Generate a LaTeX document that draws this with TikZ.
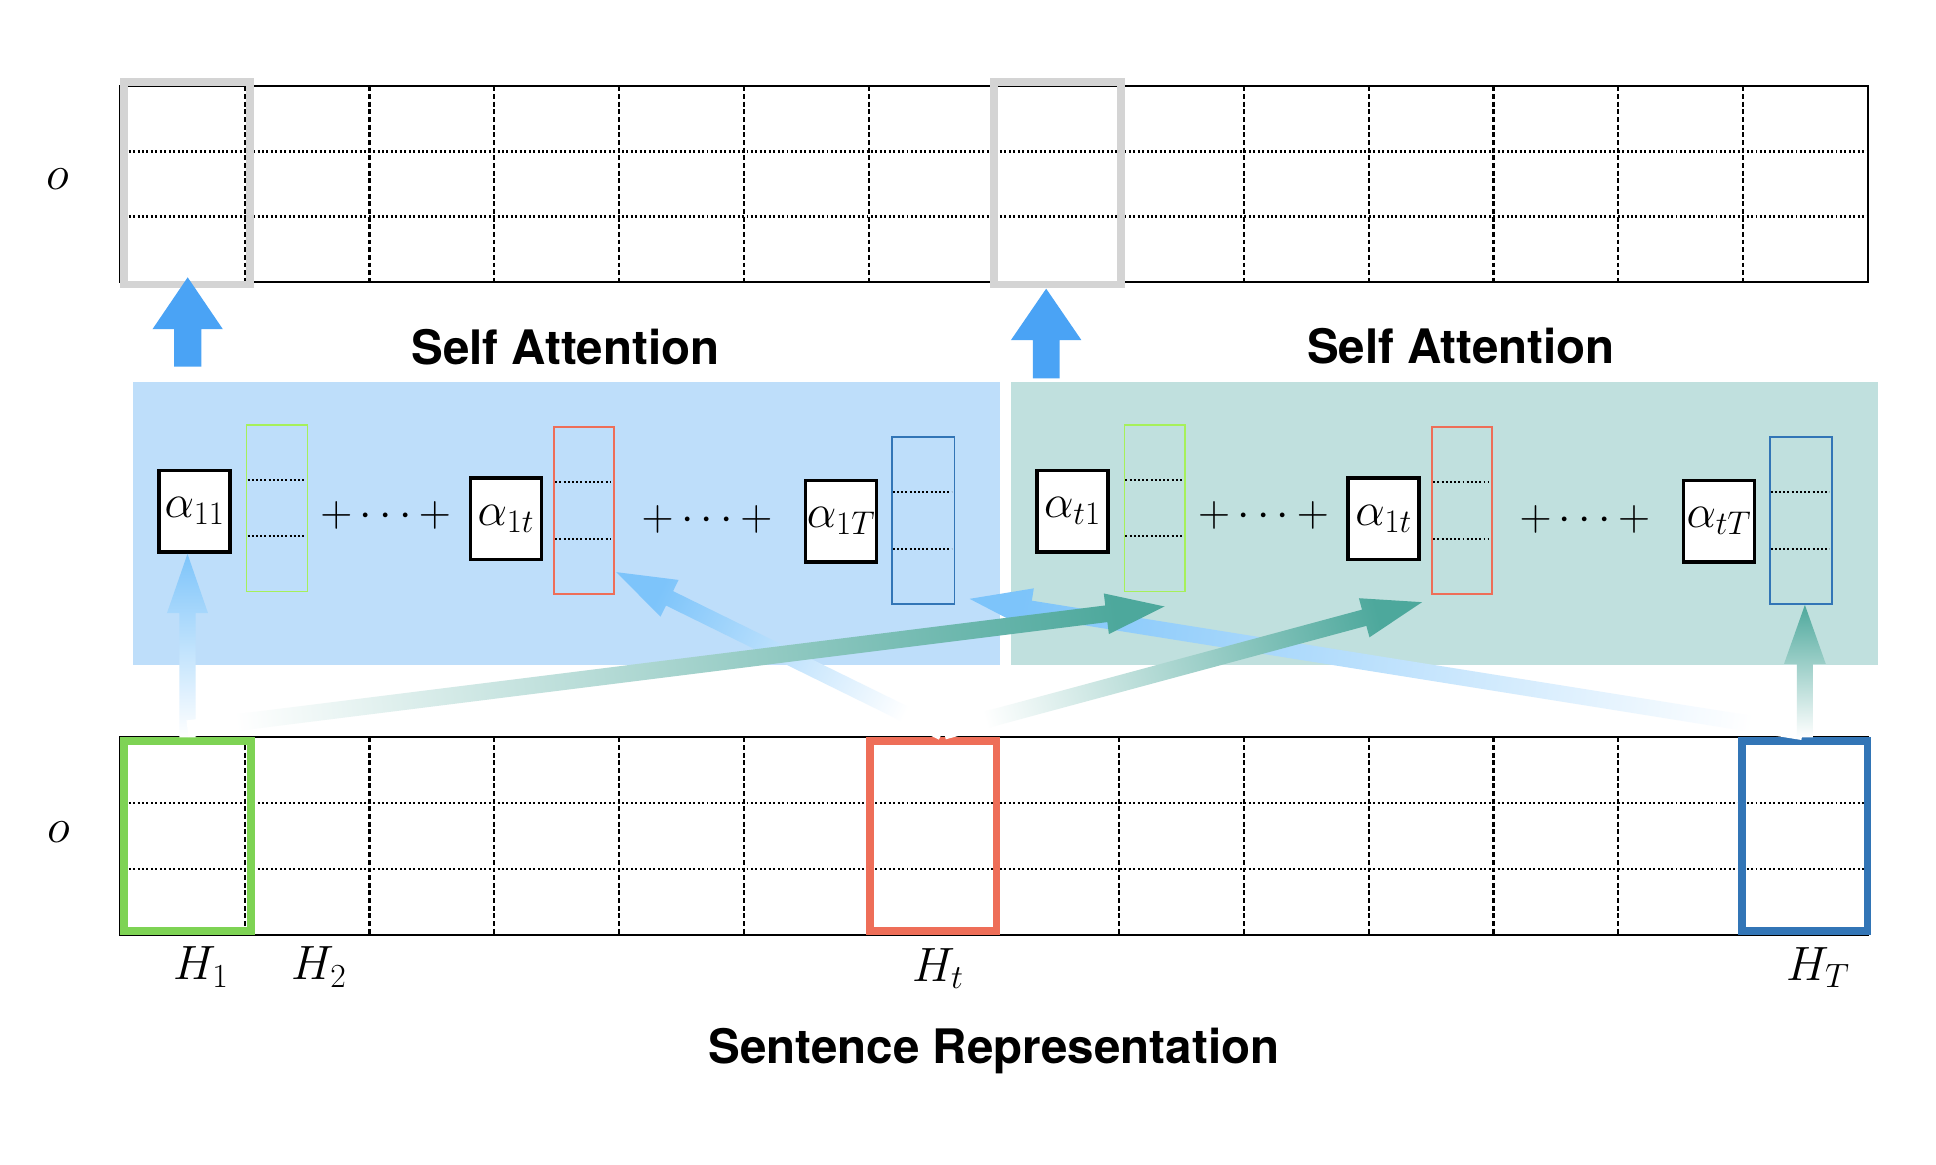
\RequirePackage{fix-cm}
\documentclass[tikz,border=0pt]{standalone}
\usepackage{fontspec}
\newfontfamily\headfont{TeX Gyre Heros}
\usetikzlibrary{calc}
\definecolor{panelblue}{HTML}{BEDEFA}
\definecolor{panelgreen}{HTML}{C0E0DE}
\definecolor{grayframe}{HTML}{D4D4D4}
\definecolor{upblue}{HTML}{4AA3F5}
\definecolor{lightarrow}{HTML}{7DC4FA}
\definecolor{tealarrow}{HTML}{4DA89C}
\definecolor{hgreen}{HTML}{7ED354}
\definecolor{hred}{HTML}{EE6E58}
\definecolor{hblue}{HTML}{3275B6}
\definecolor{vgreen}{HTML}{A6F05A}
\tikzset{
  gridsolid/.style={line width=1.6pt},
  griddash/.style={line width=1.7pt, dash pattern=on 4pt off 2.2pt},
  griddot/.style={line width=1.7pt, dash pattern=on 1.6pt off 2pt},
  hframe/.style={draw, inner sep=0pt, line width=6.2pt},
  vecbox/.style={draw, inner sep=0pt, line width=1.4pt, minimum height=135.5pt},
  abox/.style={draw, fill=white, inner sep=0pt, line width=2.8pt, minimum width=57.5pt, minimum height=66pt, font=\fontsize{38}{40}\selectfont},
  mathlbl/.style={inner sep=0pt, font=\fontsize{39}{40}\selectfont},
  plustxt/.style={inner sep=0pt, font=\fontsize{36}{40}\selectfont},
  headtxt/.style={inner sep=0pt, font=\fontsize{38.5}{40}\selectfont\headfont\bfseries},
  vdot/.style={line width=1.7pt, dash pattern=on 1.6pt off 1.8pt, shorten <=1.5pt, shorten >=3pt},
  panel/.style={inner sep=0pt, minimum width=702.6pt, minimum height=228.6pt},
}
% #1 start, #2 tip, #3 tail colour, #4 head colour, #5 half shaft, #6 half head, #7 head length
\newcommand{\gradarrow}[7]{%
  \coordinate (ga-s) at (#1);
  \coordinate (ga-t) at (#2);
  \coordinate (ga-b) at ($(ga-t)!#7!(ga-s)$);
  \path let \p1=(ga-s), \p2=(ga-t), \n1={atan2(\y2-\y1,\x2-\x1)+90} in \pgfextra{\xdef\gaang{\n1}};
  \shade[left color=#3, right color=#4, shading angle=\gaang]
    ($(ga-s)!#5!90:(ga-t)$) -- ($(ga-b)!#5!90:(ga-t)$) -- ($(ga-b)!#6!90:(ga-t)$) -- (ga-t)
    -- ($(ga-b)!#6!-90:(ga-t)$) -- ($(ga-b)!#5!-90:(ga-t)$) -- ($(ga-s)!#5!-90:(ga-t)$) -- cycle;
}
\begin{document}
\begin{tikzpicture}[x=1pt,y=-1pt]
\fill[white] (0,0) rectangle (1568,943);
\useasboundingbox (0,0) rectangle (1568,943);

% ---------- top grid ----------
\foreach \yy in {122.67,175.33} \draw[griddot] (97,\yy) -- (1513,\yy);
\foreach \i in {1,...,13} \draw[griddash] ({97+\i*101.143},70) -- ({97+\i*101.143},228);
\draw[gridsolid] (97,70) rectangle (1513,228);
\node[mathlbl] (otop) at (47,145) {$o$};
\node[hframe, draw=grayframe, minimum width=101.9pt, minimum height=164.2pt] (sel1) at (151.35,148.4) {};
\node[hframe, draw=grayframe, minimum width=102.5pt, minimum height=164.2pt] (sel2) at (856.55,148.4) {};

% ---------- panels ----------
\node[panel, fill=panelblue] (bpanel) at (458.7,424) {};
\node[panel, fill=panelgreen] (gpanel) at (1169.9,424) {};
\node[headtxt, anchor=base] (sa1) at (458,295.6) {Self Attention};
\node[headtxt, anchor=base] (sa2) at (1183.3,294.8) {Self Attention};

% blue panel content
\node[abox] (a11) at (157.6,414.15) {$\alpha_{11}$};
\node[vecbox, draw=vgreen, minimum width=49.3pt, minimum height=134.6pt] (gv1) at (224.35,411.7) {};
\node[plustxt] (p1) at (312.3,417.7) {$+\cdots+$};
\node[abox] (a1t) at (409.65,419.95) {$\alpha_{1t}$};
\node[vecbox, draw=hred, minimum width=48.3pt] (rv1) at (473.05,413.35) {};
\node[plustxt] (p2) at (572.6,420.4) {$+\cdots+$};
\node[abox] (a1T) at (681.2,422.25) {$\alpha_{1T}$};
\node[vecbox, draw=hblue, minimum width=50.7pt] (bv1) at (747.65,421.45) {};

% green panel content
\node[abox] (at1) at (868.6,414.15) {$\alpha_{t1}$};
\node[vecbox, draw=vgreen, minimum width=49.3pt, minimum height=134.6pt] (gv2) at (935.35,411.7) {};
\node[plustxt] (p3) at (1023.3,417.7) {$+\cdots+$};
\node[abox] (a1tb) at (1120.65,419.95) {$\alpha_{1t}$};
\node[vecbox, draw=hred, minimum width=48.3pt] (rv2) at (1184.05,413.35) {};
\node[plustxt] (p4) at (1283.6,420.4) {$+\cdots+$};
\node[abox] (atT) at (1392.2,422.25) {$\alpha_{tT}$};
\node[vecbox, draw=hblue, minimum width=50.7pt] (bv2) at (1458.65,421.45) {};

\foreach \vn in {gv1,rv1,bv1,gv2,rv2,bv2} {
  \draw[vdot] ($(\vn.north west)!0.3333!(\vn.south west)$) -- ($(\vn.north east)!0.3333!(\vn.south east)$);
  \draw[vdot] ($(\vn.north west)!0.6667!(\vn.south west)$) -- ($(\vn.north east)!0.6667!(\vn.south east)$);
}

% ---------- bottom grid ----------
\foreach \yy in {650.57,703.93} \draw[griddot] (97,\yy) -- (1513,\yy);
\foreach \i in {1,...,13} \draw[griddash] ({97+\i*101.143},597.2) -- ({97+\i*101.143},757.3);
\draw[gridsolid] (97,597.2) rectangle (1513,757.3);
\node[mathlbl] (obot) at (47.3,673.6) {$o$};
\node[hframe, draw=hgreen, minimum width=103.3pt, minimum height=153.9pt] (h1) at (151.85,677.25) {};
\node[hframe, draw=hred, minimum width=102.5pt, minimum height=153.9pt] (ht) at (755.75,677.25) {};
\node[hframe, draw=hblue, minimum width=101.6pt, minimum height=153.9pt] (hT) at (1461.8,677.25) {};
\node[mathlbl, anchor=base] (lh1) at (162.7,793.7) {$H_1$};
\node[mathlbl, anchor=base] (lh2) at (258.3,793.7) {$H_2$};
\node[mathlbl, anchor=base] (lht) at (759.6,795) {$H_t$};
\node[mathlbl, anchor=base] (lhT) at (1472.3,794.3) {$H_T$};
\node[headtxt, anchor=base] (sr) at (805,861) {Sentence Representation};

% ---------- fat up arrows ----------
\gradarrow{$(sel1.south)+(0.65,63.4)$}{$(sel1.south)+(0.65,-9)$}{upblue}{upblue}{11pt}{28.5pt}{42pt}
\gradarrow{$(sel2.south)+(-9.25,72.8)$}{$(sel2.south)+(-9.25,0.2)$}{upblue}{upblue}{10.8pt}{28.5pt}{41.6pt}

% ---------- attention arrows ----------
\gradarrow{h1.north}{a11.south -| h1.north}{white}{lightarrow}{6.5pt}{16.6pt}{48pt}
\gradarrow{$(ht.north)+(7.5,-4)$}{$(rv1.south east)+(1.3,-18.4)$}{white}{lightarrow}{6.5pt}{16.6pt}{48pt}
\gradarrow{$(hT.north)+(-1.8,-4.3)$}{$(bv1.south east)+(11.6,-4.9)$}{white}{lightarrow}{6.5pt}{16.6pt}{50pt}
\gradarrow{$(h1.north)+(0,-7)$}{$(gv2.south)+(7.8,11.5)$}{white}{tealarrow}{6.8pt}{16.6pt}{47.5pt}
\gradarrow{$(ht.north)+(8.5,-5)$}{$(rv2.south west)+(-7.5,5.9)$}{white}{tealarrow}{6.8pt}{16.4pt}{48.5pt}
\gradarrow{hT.north}{bv2.south -| hT.north}{white}{tealarrow}{6.5pt}{16.9pt}{47.8pt}
\end{tikzpicture}
\end{document}
